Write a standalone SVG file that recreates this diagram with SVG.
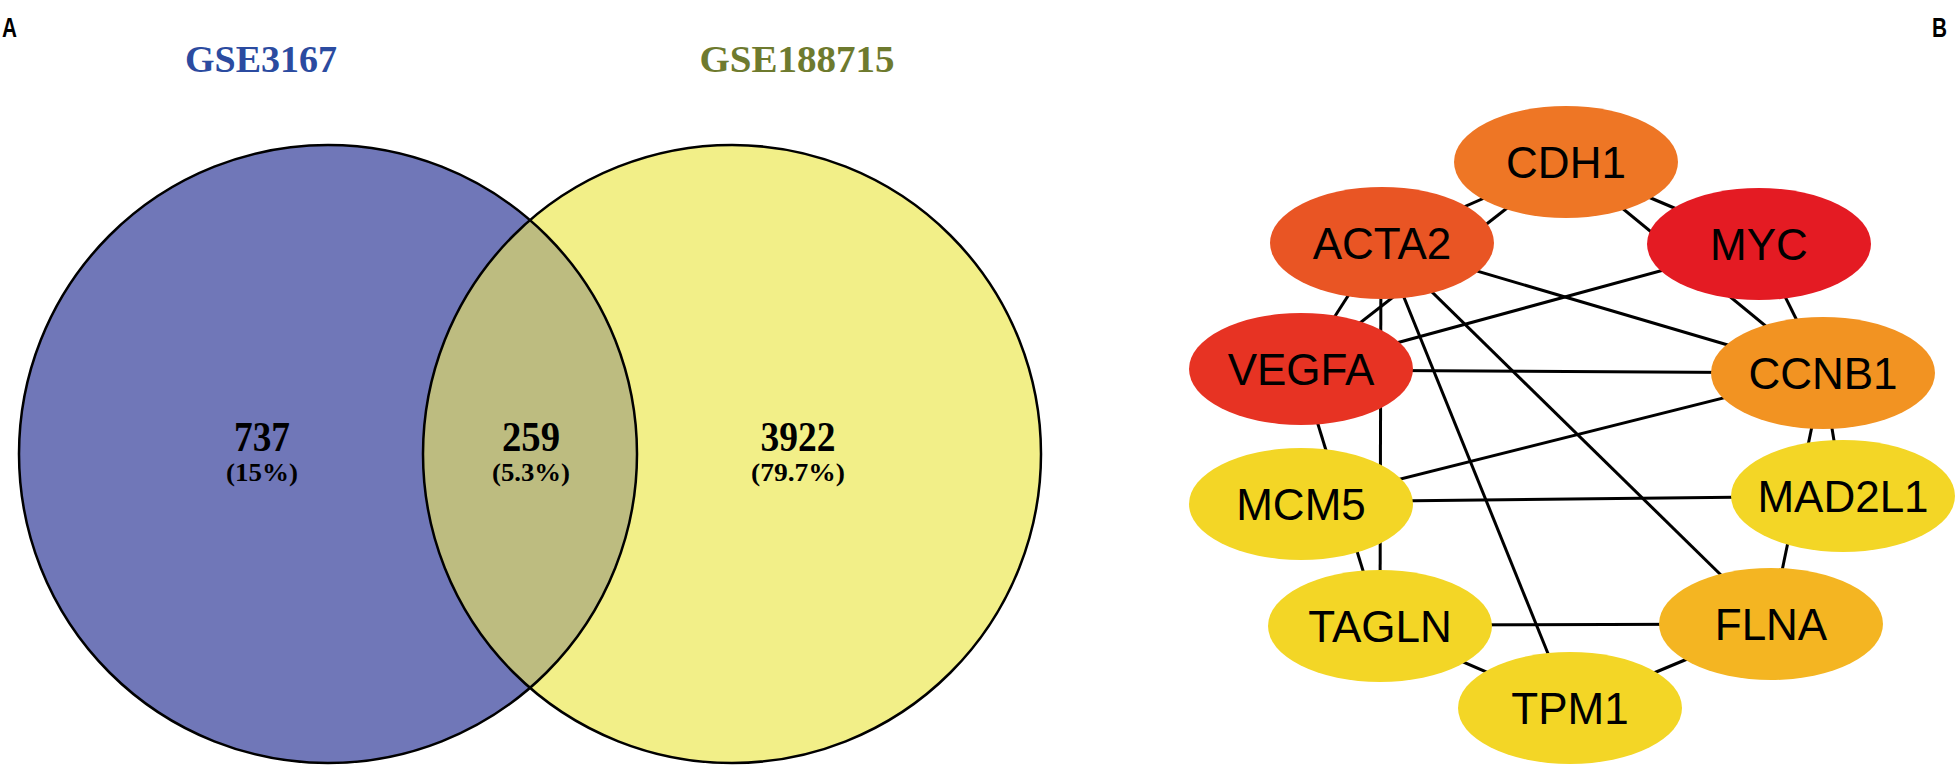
<svg xmlns="http://www.w3.org/2000/svg" width="1958" height="778" viewBox="0 0 1958 778">
<style>
.panel{font-family:"Liberation Sans",Arial,sans-serif;font-weight:bold;font-size:28px;fill:#000}
.set{font-family:"Liberation Serif","Times New Roman",serif;font-weight:bold;font-size:38px;text-anchor:middle}
.num{font-family:"Liberation Serif","Times New Roman",serif;font-weight:bold;font-size:42px;text-anchor:middle;fill:#000}
.pct{font-family:"Liberation Serif","Times New Roman",serif;font-weight:bold;font-size:25px;text-anchor:middle;fill:#000}
.vstroke{fill:none;stroke:#000;stroke-width:2.5}
.node text{font-family:"Liberation Sans",Arial,sans-serif;font-size:44px;text-anchor:middle;fill:#000}
.edges line{stroke:#000;stroke-width:3}
</style>
<defs>
<clipPath id="clipL"><circle cx="328" cy="454" r="309"/></clipPath>
</defs>
<rect width="1958" height="778" fill="#fff"/>
<text class="panel" x="2" y="37" textLength="15" lengthAdjust="spacingAndGlyphs">A</text>
<text class="panel" x="1932" y="37" textLength="15" lengthAdjust="spacingAndGlyphs">B</text>
<g id="venn">
<g id="set-gse3167">
<circle cx="328" cy="454" r="309" fill="#7077B8"/>
</g>
<g id="set-gse188715">
<circle cx="732" cy="454" r="309" fill="#F2EF88"/>
</g>
<g id="overlap">
<circle cx="732" cy="454" r="309" fill="#BDBC80" clip-path="url(#clipL)"/>
</g>
<circle class="vstroke" cx="328" cy="454" r="309"/>
<circle class="vstroke" cx="732" cy="454" r="309"/>
<text class="set" x="261" y="72" fill="#2B4BA0" textLength="152" lengthAdjust="spacingAndGlyphs">GSE3167</text>
<text class="set" x="797" y="72" fill="#6E7A2E" textLength="195" lengthAdjust="spacingAndGlyphs">GSE188715</text>
<text class="num" x="262" y="451" textLength="56" lengthAdjust="spacingAndGlyphs">737</text>
<text class="pct" x="262" y="481" textLength="72" lengthAdjust="spacingAndGlyphs">(15%)</text>
<text class="num" x="531" y="451" textLength="58" lengthAdjust="spacingAndGlyphs">259</text>
<text class="pct" x="531" y="481" textLength="78" lengthAdjust="spacingAndGlyphs">(5.3%)</text>
<text class="num" x="798" y="451" textLength="75" lengthAdjust="spacingAndGlyphs">3922</text>
<text class="pct" x="798" y="481" textLength="94" lengthAdjust="spacingAndGlyphs">(79.7%)</text>
</g>
<g id="connectors" class="edges">
<line x1="1566" y1="162" x2="1382" y2="243"/>
<line x1="1566" y1="162" x2="1301" y2="369"/>
<line x1="1566" y1="162" x2="1759" y2="244"/>
<line x1="1566" y1="162" x2="1823" y2="373"/>
<line x1="1382" y1="243" x2="1301" y2="369"/>
<line x1="1381" y1="243" x2="1380" y2="626"/>
<line x1="1382" y1="243" x2="1570" y2="708"/>
<line x1="1382" y1="243" x2="1771" y2="624"/>
<line x1="1382" y1="243" x2="1823" y2="373"/>
<line x1="1759" y1="244" x2="1301" y2="369"/>
<line x1="1759" y1="244" x2="1823" y2="373"/>
<line x1="1301" y1="370" x2="1823" y2="373"/>
<line x1="1301" y1="369" x2="1380" y2="626"/>
<line x1="1823" y1="373" x2="1301" y2="504"/>
<line x1="1823" y1="373" x2="1843" y2="496"/>
<line x1="1823" y1="373" x2="1771" y2="624"/>
<line x1="1301" y1="502" x2="1843" y2="496"/>
<line x1="1380" y1="625" x2="1771" y2="624"/>
<line x1="1380" y1="626" x2="1570" y2="708"/>
<line x1="1570" y1="708" x2="1771" y2="624"/>
</g>
<g id="node-CDH1" class="node"><ellipse cx="1566" cy="162" rx="112" ry="56" fill="#EE7625"/><text x="1566" y="178">CDH1</text></g>
<g id="node-ACTA2" class="node"><ellipse cx="1382" cy="243" rx="112" ry="56" fill="#E95524"/><text x="1382" y="259">ACTA2</text></g>
<g id="node-MYC" class="node"><ellipse cx="1759" cy="244" rx="112" ry="56" fill="#E41B23"/><text x="1759" y="260">MYC</text></g>
<g id="node-VEGFA" class="node"><ellipse cx="1301" cy="369" rx="112" ry="56" fill="#E73323"/><text x="1301" y="385">VEGFA</text></g>
<g id="node-CCNB1" class="node"><ellipse cx="1823" cy="373" rx="112" ry="56" fill="#F29322"/><text x="1823" y="389">CCNB1</text></g>
<g id="node-MCM5" class="node"><ellipse cx="1301" cy="504" rx="112" ry="56" fill="#F3D626"/><text x="1301" y="520">MCM5</text></g>
<g id="node-MAD2L1" class="node"><ellipse cx="1843" cy="496" rx="112" ry="56" fill="#F3D626"/><text x="1843" y="512">MAD2L1</text></g>
<g id="node-TAGLN" class="node"><ellipse cx="1380" cy="626" rx="112" ry="56" fill="#F3D626"/><text x="1380" y="642">TAGLN</text></g>
<g id="node-FLNA" class="node"><ellipse cx="1771" cy="624" rx="112" ry="56" fill="#F4B522"/><text x="1771" y="640">FLNA</text></g>
<g id="node-TPM1" class="node"><ellipse cx="1570" cy="708" rx="112" ry="56" fill="#F3D626"/><text x="1570" y="724">TPM1</text></g>
</svg>
